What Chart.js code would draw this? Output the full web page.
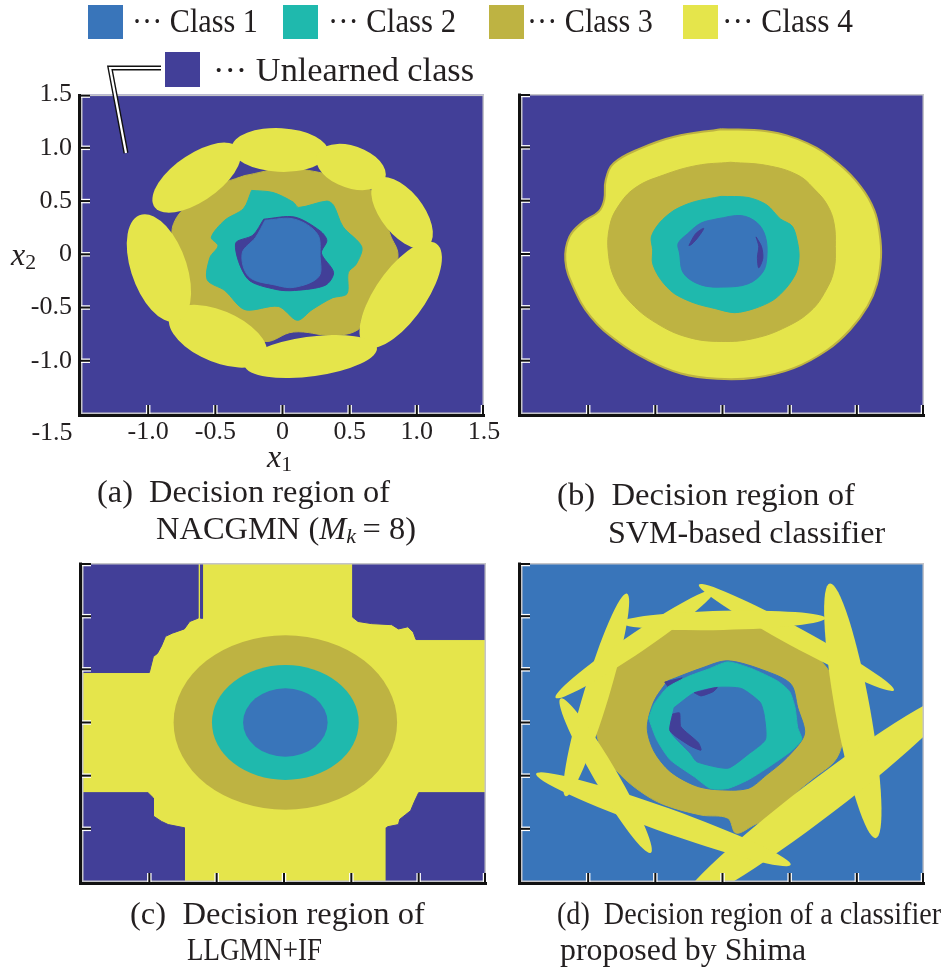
<!DOCTYPE html>
<html lang="en">
<head>
<meta charset="UTF-8">
<title>Decision regions</title>
<script src="https://cdn.jsdelivr.net/npm/chart.js"></script>
<style>
  body { margin: 0; background: #fff; font-family: "Liberation Serif", "Times New Roman", serif; color: #231f20; }
  #fig { position: relative; width: 948px; height: 974px; overflow: hidden; }
  canvas { position: absolute; }
  .txt { position: absolute; white-space: nowrap; line-height: 1; transform-origin: left center; }
  .sw { position: absolute; }
  .sub { font-style: normal; font-size: 0.68em; position: relative; top: 0.2em; }
  #leader { position: absolute; left: 0; top: 0; }
</style>
</head>
<body>
<div id="fig">
  <canvas id="panelA" width="520" height="410" style="left:0;top:70px"></canvas>
  <canvas id="panelB" width="440" height="410" style="left:500px;top:70px"></canvas>
  <canvas id="panelC" width="520" height="410" style="left:0;top:539px"></canvas>
  <canvas id="panelD" width="440" height="410" style="left:500px;top:539px"></canvas>

  <svg id="leader" width="948" height="200">
    <polyline points="161,68 110,68 126,153" fill="none" stroke="#111" stroke-width="5"/>
    <polyline points="161,68 110,68 126,153" fill="none" stroke="#fff" stroke-width="2.2"/>
  </svg>

  <div class="txt" style="left:267px;top:440px;font-size:32px"><i>x</i><span class="sub">1</span></div>
  <div class="txt" style="left:11px;top:238px;font-size:32px"><i>x</i><span class="sub">2</span></div>

  <div class="txt" data-w="293" style="left:97px;top:476px;font-size:31px">(a)&nbsp; Decision region of</div>
  <div class="txt" data-w="260" style="left:156px;top:513px;font-size:31px">NACGMN (<i>M</i><span class="sub"><i>k</i></span>&thinsp;= 8)</div>
  <div class="txt" data-w="298" style="left:557px;top:479px;font-size:31px">(b)&nbsp; Decision region of</div>
  <div class="txt" data-w="277" style="left:608px;top:517px;font-size:31px">SVM-based classifier</div>
  <div class="txt" data-w="295" style="left:130px;top:898px;font-size:31px">(c)&nbsp; Decision region of</div>
  <div class="txt" data-w="135" style="left:187px;top:934px;font-size:31px">LLGMN+IF</div>
  <div class="txt" data-w="384" style="left:557px;top:898px;font-size:31px">(d)&nbsp; Decision region of a classifier</div>
  <div class="txt" data-w="246" style="left:560px;top:934px;font-size:31px">proposed by Shima</div>
</div>

<script>
// classes
const classNames = ['Class 1', 'Class 2', 'Class 3', 'Class 4', 'Unlearned class'];
const classColors = ['#3975ba', '#1fb9ad', '#beb342', '#e5e54b', '#423f98'];
const axisTicks = [-1.5, -1.0, -0.5, 0, 0.5, 1.0, 1.5];

// (a) NACGMN: region outlines [x1, x2]
const aOlive = [[-0.28,0.74],[-0.01,0.80],[0.27,0.77],[0.47,0.68],[0.66,0.60],[0.75,0.41],[0.80,0.19],[0.86,-0.01],[0.80,-0.21],[0.66,-0.40],[0.59,-0.59],[0.56,-0.71],[0.37,-0.76],[0.08,-0.73],[-0.13,-0.82],[-0.35,-0.71],[-0.55,-0.62],[-0.70,-0.49],[-0.72,-0.31],[-0.81,-0.12],[-0.82,0.10],[-0.81,0.29],[-0.70,0.47],[-0.53,0.63],[-0.35,0.71]];
const aTeal = [[-0.23,0.60],[-0.07,0.58],[0.08,0.49],[0.12,0.44],[0.33,0.50],[0.38,0.46],[0.45,0.26],[0.59,0.07],[0.55,-0.09],[0.49,-0.17],[0.48,-0.37],[0.37,-0.41],[0.22,-0.52],[0.11,-0.62],[-0.03,-0.49],[-0.28,-0.52],[-0.43,-0.34],[-0.56,-0.24],[-0.54,-0.03],[-0.48,0.08],[-0.53,0.16],[-0.43,0.32],[-0.29,0.43]];
const aHole = [[-0.14,0.33],[0.09,0.35],[0.28,0.22],[0.33,0.13],[0.29,0.01],[0.38,-0.17],[0.32,-0.29],[0.09,-0.34],[-0.05,-0.33],[-0.26,-0.23],[-0.35,0.10],[-0.22,0.18]];
const aBlue = [[-0.13,0.32],[0.09,0.33],[0.26,0.19],[0.28,-0.02],[0.27,-0.21],[0.09,-0.31],[-0.05,-0.29],[-0.25,-0.21],[-0.30,0.01],[-0.20,0.16]];
// (a) class 4 kernels: [cx, cy, rx, ry, angle deg]
const aYellowKernels = [[-0.02,0.98,0.36,0.205,-4],[0.51,0.82,0.28,0.19,-31],[0.89,0.39,0.37,0.17,-62],[0.88,-0.38,0.55,0.20,63],[0.21,-0.96,0.50,0.185,10],[-0.48,-0.77,0.41,0.23,-33],[-0.92,-0.13,0.52,0.21,-76],[-0.64,0.72,0.42,0.20,45]];

// (b) SVM
const bYellow = [[-0.01,1.17],[0.33,1.15],[0.63,1.04],[0.86,0.85],[1.03,0.63],[1.13,0.41],[1.17,0.19],[1.18,-0.03],[1.15,-0.28],[1.08,-0.49],[0.95,-0.71],[0.78,-0.90],[0.53,-1.07],[0.24,-1.16],[-0.04,-1.17],[-0.31,-1.12],[-0.56,-0.99],[-0.78,-0.82],[-0.98,-0.59],[-1.11,-0.31],[-1.17,-0.06],[-1.14,0.16],[-1.04,0.30],[-0.92,0.40],[-0.88,0.51],[-0.87,0.69],[-0.81,0.85],[-0.61,0.99],[-0.36,1.10]];
const bOlive = [[0.06,0.86],[0.33,0.83],[0.56,0.74],[0.69,0.60],[0.78,0.46],[0.83,0.29],[0.84,0.07],[0.83,-0.15],[0.77,-0.34],[0.66,-0.53],[0.48,-0.68],[0.24,-0.79],[-0.01,-0.82],[-0.26,-0.78],[-0.49,-0.65],[-0.68,-0.46],[-0.80,-0.24],[-0.85,0.01],[-0.84,0.26],[-0.78,0.44],[-0.65,0.62],[-0.44,0.74],[-0.19,0.83]];
const bTeal = [[-0.01,0.54],[0.19,0.53],[0.33,0.46],[0.43,0.33],[0.52,0.26],[0.56,0.10],[0.57,-0.03],[0.55,-0.17],[0.48,-0.31],[0.38,-0.43],[0.24,-0.51],[0.09,-0.55],[-0.06,-0.51],[-0.21,-0.46],[-0.36,-0.37],[-0.46,-0.24],[-0.52,-0.09],[-0.52,0.04],[-0.53,0.16],[-0.47,0.29],[-0.36,0.41],[-0.21,0.49]];
const bBlue = [[-0.04,0.33],[0.14,0.36],[0.26,0.29],[0.32,0.16],[0.33,-0.03],[0.30,-0.17],[0.19,-0.28],[0.01,-0.31],[-0.16,-0.29],[-0.29,-0.18],[-0.32,0.01],[-0.33,0.10],[-0.26,0.19],[-0.16,0.29]];
const bDarkLeft = [[-0.25,0.08],[-0.20,0.19],[-0.14,0.24],[-0.18,0.16],[-0.23,0.09]];
const bDarkRight = [[0.25,0.16],[0.29,0.07],[0.30,-0.04],[0.27,-0.13],[0.26,-0.03],[0.27,0.07]];

// (c) LLGMN+IF
const cCornerTL = [[-1.5,1.5],[-0.64,1.5],[-0.64,0.98],[-0.70,0.95],[-0.74,0.88],[-0.83,0.84],[-0.88,0.81],[-0.91,0.72],[-0.94,0.65],[-0.97,0.62],[-1.0,0.47],[-1.5,0.47]];
const cStripe = [[-0.62,1.5],[-0.605,1.5],[-0.605,0.98],[-0.62,0.98]];
const cCornerTR = [[0.51,1.5],[1.5,1.5],[1.5,0.78],[0.98,0.78],[0.96,0.85],[0.92,0.90],[0.85,0.88],[0.80,0.92],[0.65,0.93],[0.55,0.95],[0.51,0.99]];
const cCornerBL = [[-1.5,-0.66],[-1.01,-0.66],[-0.97,-0.71],[-0.97,-0.88],[-0.91,-0.93],[-0.86,-0.96],[-0.74,-0.99],[-0.74,-1.5],[-1.5,-1.5]];
const cCornerBR = [[1.5,-0.66],[1.0,-0.66],[0.97,-0.74],[0.94,-0.83],[0.90,-0.87],[0.86,-0.91],[0.85,-0.96],[0.77,-0.98],[0.76,-0.99],[0.76,-1.5],[1.5,-1.5]];
const cOliveDisc = [[0.01,0.0,0.83,0.82,0]];
const cTealDisc = [[0.01,0.0,0.545,0.54,0]];
const cBlueDisc = [[0.01,0.0,0.314,0.321,0]];

// (d) Shima
const dOlive = [[-0.83,0.51],[-0.66,0.67],[-0.39,0.87],[-0.16,0.90],[0.04,0.92],[0.28,0.90],[0.41,0.84],[0.51,0.78],[0.63,0.69],[0.76,0.54],[0.84,0.36],[0.85,0.17],[0.91,-0.02],[0.89,-0.21],[0.83,-0.37],[0.68,-0.52],[0.56,-0.65],[0.43,-0.84],[0.24,-0.96],[0.10,-1.04],[0.04,-0.90],[-0.16,-0.87],[-0.44,-0.77],[-0.61,-0.65],[-0.76,-0.49],[-0.88,-0.30],[-0.94,-0.08],[-0.92,0.17],[-0.88,0.36]];
const dInnerBlue = [[-0.41,0.39],[-0.16,0.51],[0.04,0.58],[0.33,0.48],[0.51,0.36],[0.56,0.14],[0.61,-0.11],[0.48,-0.33],[0.33,-0.49],[0.19,-0.62],[-0.06,-0.63],[-0.21,-0.59],[-0.39,-0.46],[-0.51,-0.27],[-0.56,-0.05],[-0.51,0.20]];
const dDarkOuter = [[-0.43,0.38],[-0.30,0.42],[-0.39,0.31]];
const dTeal = [[-0.55,0.04],[-0.51,0.17],[-0.41,0.33],[-0.26,0.43],[-0.11,0.50],[0.04,0.57],[0.21,0.51],[0.41,0.39],[0.50,0.29],[0.54,0.14],[0.56,-0.05],[0.59,-0.16],[0.51,-0.27],[0.33,-0.43],[0.19,-0.54],[0.04,-0.62],[-0.09,-0.62],[-0.21,-0.51],[-0.39,-0.35],[-0.49,-0.16]];
const dBlue = [[-0.36,0.14],[-0.21,0.28],[-0.04,0.33],[0.14,0.32],[0.28,0.19],[0.31,0.07],[0.32,-0.16],[0.19,-0.30],[0.04,-0.43],[-0.19,-0.37],[-0.24,-0.29],[-0.39,-0.08]];
const dDarkTop = [[-0.21,0.28],[-0.04,0.33],[-0.07,0.29],[-0.16,0.25]];
const dDarkLeft = [[-0.37,0.08],[-0.39,-0.08],[-0.24,-0.22],[-0.16,-0.26],[-0.18,-0.19],[-0.31,-0.04],[-0.32,0.09]];
const dYellowKernels = [[-0.94,0.26,0.98,0.095,76.6],[-0.65,0.74,0.78,0.085,40.7],[0.55,0.80,0.88,0.085,-34.5],[0.005,0.96,0.76,0.09,1.6],[0.97,0.11,1.21,0.13,98.1],[0.72,-0.72,1.43,0.16,44],[-0.44,-0.91,1.04,0.11,-24.4],[-0.87,-0.50,0.80,0.09,-65.3]];

Chart.defaults.font.family = '"Liberation Serif", "Times New Roman", serif';
Chart.defaults.color = '#231f20';

function region(pts, cls, i, extra) {
  const closed = pts.concat([pts[0]]);
  return Object.assign({
    data: closed.map(p => ({ x: p[0], y: p[1] })),
    showLine: true,
    fill: 'shape',
    tension: 0.4,
    backgroundColor: classColors[cls],
    borderColor: classColors[cls],
    borderWidth: 1,
    pointRadius: 0,
    order: -i
  }, extra || {});
}

function drawKernels(chart, groups) {
  const { ctx, chartArea: a, scales: { x, y } } = chart;
  const kx = x.getPixelForValue(1) - x.getPixelForValue(0);
  const ky = y.getPixelForValue(0) - y.getPixelForValue(1);
  ctx.save();
  ctx.beginPath();
  ctx.rect(a.left, a.top, a.width, a.height);
  ctx.clip();
  groups.forEach(([rows, cls]) => {
    ctx.fillStyle = classColors[cls];
    rows.forEach(([cx, cy, rx, ry, deg]) => {
      ctx.save();
      ctx.translate(x.getPixelForValue(cx), y.getPixelForValue(cy));
      ctx.scale(kx, -ky);
      ctx.rotate(deg * Math.PI / 180);
      ctx.beginPath();
      ctx.ellipse(0, 0, rx, ry, 0, 0, Math.PI * 2);
      ctx.restore();
      ctx.fill();
    });
  });
  ctx.restore();
}

function drawFrame(chart) {
  const { ctx, chartArea: a, scales: { x, y } } = chart;
  ctx.save();
  ctx.strokeStyle = '#c4c4c8';
  ctx.lineWidth = 1.5;
  ctx.strokeRect(a.left + 0.75, a.top + 0.75, a.width - 1.5, a.height - 1.5);
  const mark = (x1, y1, x2, y2) => {
    ctx.lineCap = 'butt';
    ctx.strokeStyle = '#fff'; ctx.lineWidth = 4.5;
    ctx.beginPath(); ctx.moveTo(x1, y1); ctx.lineTo(x2, y2); ctx.stroke();
    ctx.strokeStyle = '#111'; ctx.lineWidth = 2;
    ctx.beginPath(); ctx.moveTo(x1, y1); ctx.lineTo(x2, y2); ctx.stroke();
  };
  x.ticks.forEach(t => {
    if (t.value <= -1.5) return;
    const px = Math.min(x.getPixelForValue(t.value), a.right - 1);
    mark(px, a.bottom, px, a.bottom - 9);
  });
  y.ticks.forEach(t => {
    if (t.value <= -1.5) return;
    const py = Math.max(y.getPixelForValue(t.value), a.top + 1);
    mark(a.left, py, a.left + 9, py);
  });
  ctx.strokeStyle = '#111';
  ctx.lineWidth = 3;
  ctx.beginPath();
  ctx.moveTo(a.left - 1.5, a.top - 0.5);
  ctx.lineTo(a.left - 1.5, a.bottom + 1.5);
  ctx.lineTo(a.right + 1, a.bottom + 1.5);
  ctx.stroke();
  ctx.restore();
}

function tickLabel(v) {
  if (v <= -1.5) return '';
  return v === 0 ? '0' : v.toFixed(1);
}

function makePanel(id, cfg) {
  const canvas = document.getElementById(id);
  const W = canvas.width, H = canvas.height;
  const [left, top, right, bottom] = cfg.area;
  const tickFont = { family: '"Liberation Serif", serif', size: 26 };
  const axis = (isX) => ({
    type: 'linear', min: -1.5, max: 1.5,
    grid: { display: false, drawTicks: false },
    border: { display: false },
    ticks: {
      display: !!cfg.labels, stepSize: 0.5, padding: isX ? 3 : 9,
      font: tickFont, color: '#231f20', callback: tickLabel
    },
    afterFit: s => { if (isX) s.height = H - bottom; else s.width = left; }
  });
  return new Chart(canvas, {
    type: 'scatter',
    data: { datasets: cfg.layers.map((l, i) => region(l[0], l[1], i, l[2])) },
    options: {
      responsive: false, animation: false, events: [],
      layout: { padding: { left: 0, top: top, right: W - right, bottom: 0 } },
      plugins: { legend: { display: false }, tooltip: { enabled: false } },
      scales: { x: axis(true), y: axis(false) }
    },
    plugins: [{
      id: 'panel' + id,
      beforeDatasetsDraw(chart) {
        const a = chart.chartArea;
        chart.ctx.save();
        chart.ctx.fillStyle = classColors[cfg.bg];
        chart.ctx.fillRect(a.left, a.top, a.width, a.height);
        chart.ctx.restore();
      },
      afterDatasetsDraw(chart) { drawKernels(chart, cfg.kernels || []); },
      afterDraw(chart) {
        drawFrame(chart);
        if (cfg.labels) {
          // the corner label -1.5 sits left of the origin, on the x label row
          const { ctx, chartArea: a } = chart;
          ctx.save();
          ctx.font = '26px "Liberation Serif", serif';
          ctx.fillStyle = '#231f20';
          ctx.textAlign = 'center';
          ctx.textBaseline = 'middle';
          ctx.fillText(axisTicks[0].toFixed(1), a.left - 29, a.bottom + 19);
          ctx.restore();
        }
      }
    }]
  });
}

makePanel('panelA', {
  area: [81, 24, 484, 344], labels: true, bg: 4,
  layers: [[aOlive, 2], [aTeal, 1, { tension: 0.3 }], [aHole, 4, { tension: 0.3 }], [aBlue, 0, { tension: 0.35 }]],
  kernels: [[aYellowKernels, 3]]
});
makePanel('panelB', {
  area: [21, 24, 424, 344], bg: 4,
  layers: [[bYellow, 3, { borderColor: classColors[2], borderWidth: 2 }], [bOlive, 2], [bTeal, 1, { tension: 0.3 }], [bBlue, 0, { tension: 0.35 }],
           [bDarkLeft, 4, { tension: 0.3 }], [bDarkRight, 4, { tension: 0.3 }]]
});
makePanel('panelC', {
  area: [82, 24, 486, 343], bg: 3,
  layers: [[cCornerTL, 4, { tension: 0 }], [cStripe, 4, { tension: 0 }], [cCornerTR, 4, { tension: 0 }],
           [cCornerBL, 4, { tension: 0 }], [cCornerBR, 4, { tension: 0 }]],
  kernels: [[cOliveDisc, 2], [cTealDisc, 1], [cBlueDisc, 0]]
});
makePanel('panelD', {
  area: [21, 24, 424, 343], bg: 0,
  layers: [[dOlive, 2, { tension: 0.35 }], [dInnerBlue, 0, { tension: 0.3 }], [dDarkOuter, 4, { tension: 0 }],
           [dTeal, 1, { tension: 0.2 }], [dBlue, 0, { tension: 0.2 }],
           [dDarkTop, 4, { tension: 0.2 }], [dDarkLeft, 4, { tension: 0.2 }]],
  kernels: [[dYellowKernels, 3]]
});

// legend (HTML, built from class names and colours)
const fig = document.getElementById('fig');
const legendBoxes = [[88, 5, 35, 34], [283, 5, 35, 34], [489, 5, 35, 34], [683, 5, 35, 34], [165, 52, 35, 35]];
const legendLabels = [[132, 21, 126], [328, 21, 128], [527, 21, 126], [722, 21, 131], [213, 70, 261]];
classNames.forEach((name, i) => {
  const [bx, by, bw, bh] = legendBoxes[i];
  const sw = document.createElement('div');
  sw.className = 'sw';
  sw.style.cssText = `left:${bx}px;top:${by}px;width:${bw}px;height:${bh}px;background:${classColors[i]}`;
  fig.appendChild(sw);
  const [tx, cy, tw] = legendLabels[i];
  const t = document.createElement('div');
  t.className = 'txt';
  t.dataset.w = tw;
  t.style.cssText = `left:${tx}px;top:${cy - 16.5}px;font-size:33px`;
  t.textContent = '\u00b7\u00b7\u00b7 ' + name;
  fig.appendChild(t);
});

document.querySelectorAll('.txt[data-w]').forEach(el => {
  const w = el.getBoundingClientRect().width;
  if (w > 0) el.style.transform = 'scaleX(' + (Number(el.dataset.w) / w).toFixed(3) + ')';
});
</script>
</body>
</html>
